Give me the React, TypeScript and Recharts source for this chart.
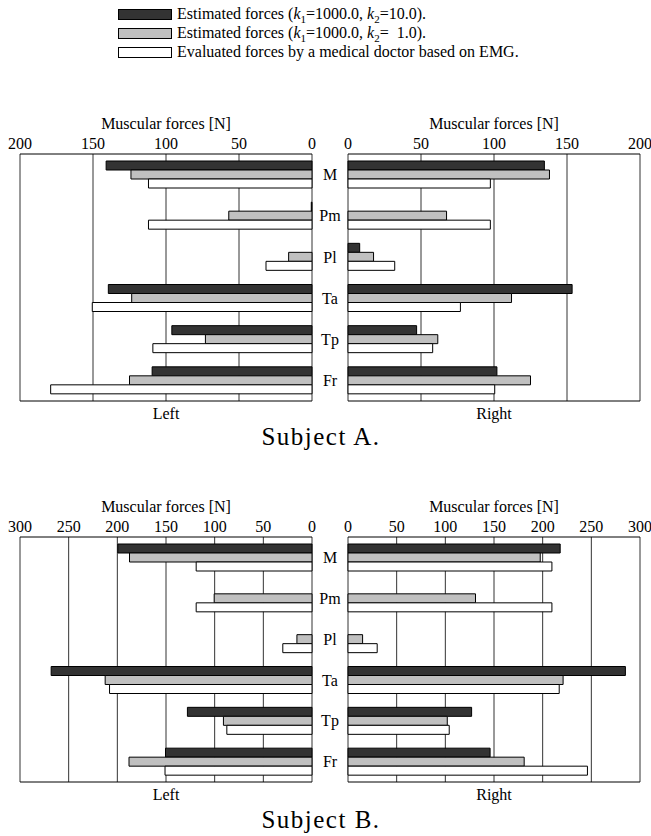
import React from 'react';
import { BarChart, Bar, XAxis, YAxis, CartesianGrid } from 'recharts';

const muscles = ['M', 'Pm', 'Pl', 'Ta', 'Tp', 'Fr'];

// Subject A
const aLeftK10 = [141, 0.5, 0, 139.5, 96, 109.5];
const aLeftK1 = [124, 57, 16, 123.5, 73, 125];
const aLeftEmg = [112, 112, 31.5, 150.5, 109, 179];
const aRightK10 = [134.5, 0, 8, 153.5, 47, 102];
const aRightK1 = [138, 67.5, 17.5, 112, 61.5, 125];
const aRightEmg = [97.5, 97.5, 32, 77, 58, 100.5];
const aTicks = [0, 50, 100, 150, 200];

// Subject B
const bLeftK10 = [199.5, 0, 0, 268, 128, 150.5];
const bLeftK1 = [187.5, 100.5, 15.5, 212.5, 91, 188];
const bLeftEmg = [119, 119, 30, 208, 87.5, 151];
const bRightK10 = [218, 0, 0, 285, 127, 146];
const bRightK1 = [197.5, 131, 15, 221, 102, 181];
const bRightEmg = [209.5, 209.5, 30, 217, 104, 246];
const bTicks = [0, 50, 100, 150, 200, 250, 300];

const DARK = '#333333';
const GRAY = '#c0c0c0';
const WHITE = '#ffffff';
const TOP_AXIS_H = 25;
const BOTTOM_AXIS_H = 22;

function makeRows(k10: number[], k1: number[], emg: number[]) {
  return muscles.map((name, i) => ({ name, k10: k10[i], k1: k1[i], emg: emg[i] }));
}

function Panel({
  rows,
  ticks,
  side,
  top,
  plotTop,
  plotHeight,
}: {
  rows: { name: string; k10: number; k1: number; emg: number }[];
  ticks: number[];
  side: 'left' | 'right';
  top: number;
  plotTop: number;
  plotHeight: number;
}) {
  const isLeft = side === 'left';
  const max = ticks[ticks.length - 1];
  const marginTop = plotTop - TOP_AXIS_H - top;
  const height = marginTop + TOP_AXIS_H + plotHeight + BOTTOM_AXIS_H + 7;
  const textStyle = { fill: '#000', fontSize: 16 };
  return (
    <div style={{ position: 'absolute', left: isLeft ? 0 : 330, top }}>
      <BarChart
        width={isLeft ? 348 : 321}
        height={height}
        data={rows}
        layout="vertical"
        margin={{ top: marginTop, right: isLeft ? 0 : 11, bottom: 7, left: isLeft ? 20 : 18 }}
        barGap={0}
      >
        <CartesianGrid xAxisId="top" horizontal={false} stroke="#333" />
        <XAxis
          xAxisId="top"
          type="number"
          orientation="top"
          domain={[0, max]}
          ticks={ticks}
          interval={0}
          reversed={isLeft}
          height={TOP_AXIS_H}
          tickLine={false}
          tickSize={2}
          tickMargin={3}
          axisLine={{ stroke: '#000' }}
          tick={textStyle}
          label={{ value: 'Muscular forces [N]', position: 'top', offset: 0, ...textStyle }}
        />
        <XAxis
          xAxisId="bottom"
          type="number"
          orientation="bottom"
          domain={[0, max]}
          reversed={isLeft}
          height={BOTTOM_AXIS_H}
          tick={false}
          tickLine={false}
          axisLine={{ stroke: '#000' }}
          label={{ value: isLeft ? 'Left' : 'Right', position: 'insideBottom', offset: 4, ...textStyle }}
        />
        <YAxis
          type="category"
          dataKey="name"
          orientation="right"
          width={36}
          hide={!isLeft}
          axisLine={false}
          tickLine={false}
          tickSize={0}
          tickMargin={18}
          interval={0}
          tick={{ ...textStyle, textAnchor: 'middle' }}
        />
        <Bar xAxisId="top" dataKey="k10" fill={DARK} stroke="#000" strokeWidth={1} barSize={9} isAnimationActive={false} />
        <Bar xAxisId="top" dataKey="k1" fill={GRAY} stroke="#000" strokeWidth={1} barSize={9} isAnimationActive={false} />
        <Bar xAxisId="top" dataKey="emg" fill={WHITE} stroke="#000" strokeWidth={1} barSize={9} isAnimationActive={false} />
      </BarChart>
    </div>
  );
}

function Overlay() {
  const rowY = [9, 28, 47];
  const sub = { fontSize: 11 };
  return (
    <svg width={651} height={836} style={{ position: 'absolute', left: 0, top: 0, pointerEvents: 'none' }}>
      {[DARK, GRAY, WHITE].map((c, i) => (
        <rect key={c} x={118.5} y={rowY[i] + 0.5} width={53} height={10} fill={c} stroke="#000" />
      ))}
      <text x={177} y={rowY[0] + 10} fontSize={16} fill="#000">
        Estimated forces (<tspan fontStyle="italic">k</tspan>
        <tspan {...sub} dy={4}>1</tspan>
        <tspan dy={-4}>=1000.0, </tspan>
        <tspan fontStyle="italic">k</tspan>
        <tspan {...sub} dy={4}>2</tspan>
        <tspan dy={-4}>=10.0).</tspan>
      </text>
      <text x={177} y={rowY[1] + 10} fontSize={16} fill="#000">
        Estimated forces (<tspan fontStyle="italic">k</tspan>
        <tspan {...sub} dy={4}>1</tspan>
        <tspan dy={-4}>=1000.0, </tspan>
        <tspan fontStyle="italic">k</tspan>
        <tspan {...sub} dy={4}>2</tspan>
        <tspan dy={-4}>=</tspan>
        <tspan dx={8}>1.0).</tspan>
      </text>
      <text x={177} y={rowY[2] + 10} fontSize={16} fill="#000">
        Evaluated forces by a medical doctor based on EMG.
      </text>
      <text x={321} y={445} fontSize={25} letterSpacing={1.5} textAnchor="middle" fill="#000">
        Subject A.
      </text>
      <text x={321} y={828} fontSize={25} letterSpacing={1.5} textAnchor="middle" fill="#000">
        Subject B.
      </text>
    </svg>
  );
}

export default function App() {
  return (
    <div
      style={{
        position: 'absolute',
        left: 0,
        top: 0,
        width: 651,
        height: 836,
        background: '#fff',
        fontFamily: '"Liberation Serif", serif',
      }}
    >
      <Panel rows={makeRows(aLeftK10, aLeftK1, aLeftEmg)} ticks={aTicks} side="left" top={100} plotTop={154} plotHeight={247} />
      <Panel rows={makeRows(aRightK10, aRightK1, aRightEmg)} ticks={aTicks} side="right" top={100} plotTop={154} plotHeight={247} />
      <Panel rows={makeRows(bLeftK10, bLeftK1, bLeftEmg)} ticks={bTicks} side="left" top={490} plotTop={537} plotHeight={245} />
      <Panel rows={makeRows(bRightK10, bRightK1, bRightEmg)} ticks={bTicks} side="right" top={490} plotTop={537} plotHeight={245} />
      <Overlay />
    </div>
  );
}
